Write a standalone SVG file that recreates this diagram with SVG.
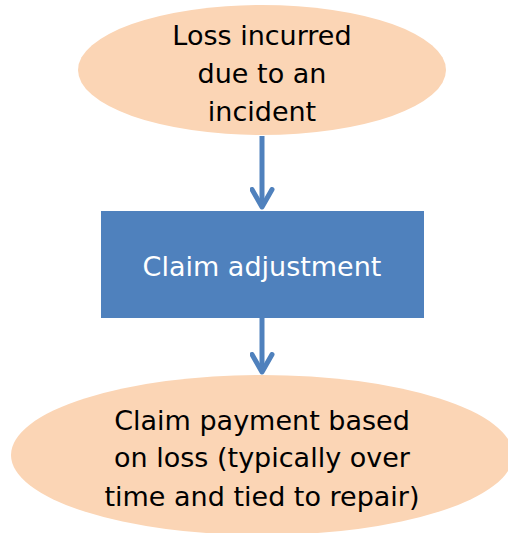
<svg xmlns="http://www.w3.org/2000/svg" width="508" height="533" viewBox="0 0 508 533">
<style>
.oval{fill:#FBD5B5;}
.box{fill:#4F81BD;}
.t{font-family:"DejaVu Sans","Liberation Sans",Arial,sans-serif;font-size:27px;text-anchor:middle;fill:#000;}
.w{fill:#fff;}
.c{stroke:#4F81BD;stroke-width:5;fill:none;}
</style>
<defs>
<marker id="ah" viewBox="0 0 10 10" refX="8" refY="5" markerWidth="5" markerHeight="5" markerUnits="strokeWidth" orient="auto">
<path d="M1,1 L8,5 L1,9" fill="none" stroke="#4F81BD" stroke-width="2" stroke-linecap="round" stroke-linejoin="round"/>
</marker>
</defs>
<g id="n1">
<ellipse class="oval" cx="262" cy="70" rx="184" ry="65"/>
<text class="t" x="262" y="45">Loss incurred</text>
<text class="t" x="262" y="83">due to an</text>
<text class="t" x="262" y="121">incident</text>
</g>
<g id="n2">
<rect class="box" x="101" y="211" width="323" height="107"/>
<text class="t w" x="262" y="276">Claim adjustment</text>
</g>
<g id="n3">
<ellipse class="oval" cx="262" cy="455" rx="251" ry="80"/>
<text class="t" x="262" y="430">Claim payment based</text>
<text class="t" x="262" y="467">on loss (typically over</text>
<text class="t" x="262" y="506">time and tied to repair)</text>
</g>
<g id="connectors">
<line class="c" x1="262" y1="136" x2="262" y2="207" marker-end="url(#ah)"/>
<line class="c" x1="262" y1="318" x2="262" y2="372" marker-end="url(#ah)"/>
</g>
</svg>
